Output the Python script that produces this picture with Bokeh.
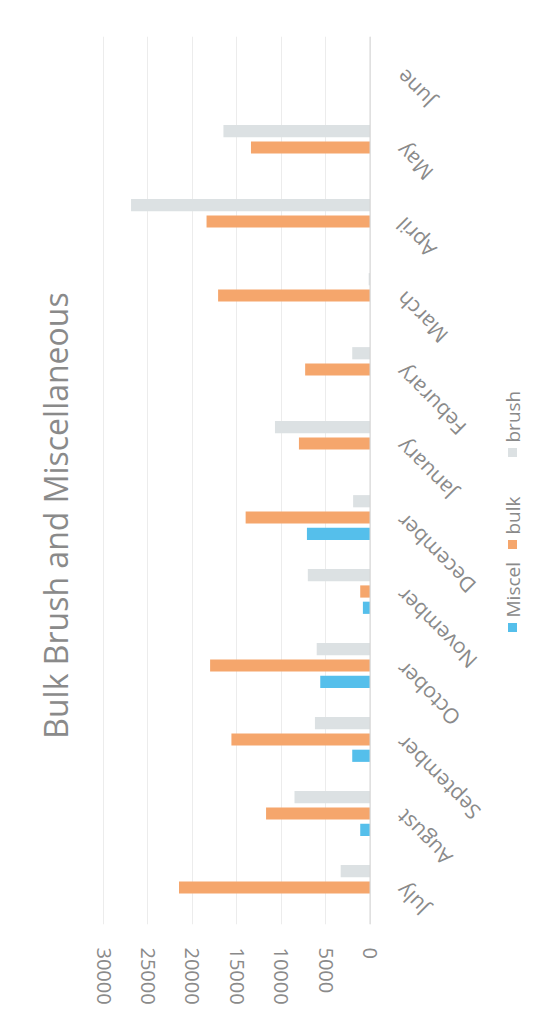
import math
from bokeh.plotting import figure
from bokeh.models import Range1d, FixedTicker, Span, Label, ColumnDataSource, BoxAnnotation
from bokeh.core.properties import value
from bokeh.transform import dodge
from bokeh.embed import file_html
from bokeh.resources import INLINE

# ---- data ----
months = ["July", "August", "September", "October", "November", "December",
          "January", "Feburary", "March", "April", "May", "June"]
miscel = [0, 1100, 2000, 5600, 800, 7100, 0, 0, 0, 0, 0, 0]
bulk = [21500, 11700, 15600, 18000, 1100, 14000, 8000, 7300, 17100, 18400, 13400, 0]
brush = [3300, 8500, 6200, 6000, 7000, 1900, 10700, 2000, 150, 26900, 16500, 0]
value_ticks = [0, 5000, 10000, 15000, 20000, 25000, 30000]
series_names = ["Miscel", "bulk", "brush"]
title_text = "Bulk Brush and Miscellaneous"

colors = ["#55BFEB", "#F5A66C", "#DCE1E3"]
text_color = "#8a8a8a"
font = "Open Sans"

src = ColumnDataSource(dict(months=months, miscel=miscel, bulk=bulk, brush=brush,
                            zero=[0] * len(months)))

p = figure(width=540, height=1014, y_range=months,
           x_range=Range1d(41595, -19193),
           output_backend="svg", toolbar_location=None,
           min_border_left=0, min_border_right=0, min_border_top=36, min_border_bottom=90)
p.outline_line_color = None
p.background_fill_color = "white"

# grid & axes
p.xaxis.ticker = FixedTicker(ticks=value_ticks)
p.xgrid.ticker = FixedTicker(ticks=value_ticks)
p.xgrid.grid_line_color = "#ececec"
p.ygrid.visible = False
p.yaxis.visible = False
p.xaxis.axis_line_color = None
p.xaxis.major_tick_line_color = None
p.xaxis.minor_tick_line_color = None
p.xaxis.major_label_orientation = "vertical"
p.xaxis.major_label_text_font = font
p.xaxis.major_label_text_font_size = "20px"
p.xaxis.major_label_text_color = text_color
p.xaxis.major_label_standoff = 17

p.add_layout(Span(location=0, dimension="height", line_color="#d4d4d4", line_width=1))

# bars
offsets = [-0.22, 0.0, 0.22]
fields = ["miscel", "bulk", "brush"]
for f, off, c in zip(fields, offsets, colors):
    p.hbar(y=dodge("months", off, range=p.y_range), right=f, left=0, height=0.165,
           source=src, fill_color=c, line_color=None)

# category labels (rotated, anchored at the zero line)
p.text(x="zero", y="months", text="months", source=src, angle=3 * math.pi / 4,
       x_offset=30, text_align="right", text_baseline="middle",
       text_font=value(font), text_font_size="21px", text_color=text_color)

# title
p.add_layout(Label(x=55, y=409, x_units="screen", y_units="screen", text=title_text,
                   angle=math.pi / 2, text_align="center", text_baseline="middle",
                   text_font=font, text_font_size="32px", text_color=text_color))

# legend (rotated)
leg_x = 512
sq_y = [297, 380, 472]
for name, c, sy in zip(series_names, colors, sq_y):
    p.add_layout(BoxAnnotation(left=leg_x - 4.5, right=leg_x + 4.5, bottom=sy - 4.5, top=sy + 4.5,
                               left_units="screen", right_units="screen",
                               bottom_units="screen", top_units="screen",
                               fill_color=c, fill_alpha=1.0, line_color=None))
    p.add_layout(Label(x=leg_x, y=sy + 10, x_units="screen", y_units="screen", text=name,
                       angle=math.pi / 2, text_align="left", text_baseline="middle",
                       text_font=font, text_font_size="19px", text_color=text_color))

open("out.html", "w").write(file_html(p, INLINE))
